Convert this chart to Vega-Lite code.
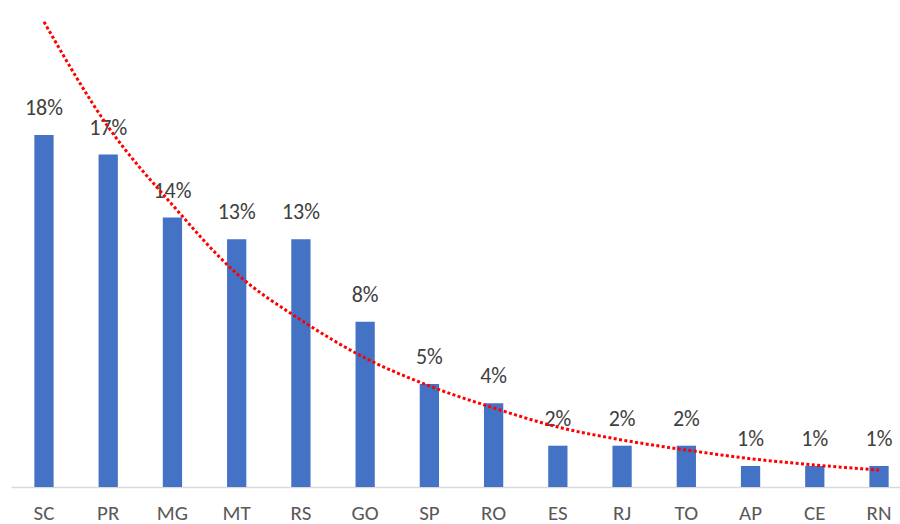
{
  "$schema": "https://vega.github.io/schema/vega-lite/v6.json",
  "width": 889,
  "height": 487,
  "autosize": "none",
  "padding": {"left": 11, "top": 0, "right": 0, "bottom": 37},
  "background": "white",
  "config": {
    "view": {"stroke": null},
    "axis": {"grid": false}
  },
  "data": {
    "values": [
      {"uf": "SC", "share": 0.179, "trend": 0.2365},
      {"uf": "PR", "share": 0.169, "trend": 0.1831},
      {"uf": "MG", "share": 0.137, "trend": 0.1434},
      {"uf": "MT", "share": 0.126, "trend": 0.1085},
      {"uf": "RS", "share": 0.126, "trend": 0.0849},
      {"uf": "GO", "share": 0.084, "trend": 0.0656},
      {"uf": "SP", "share": 0.0524, "trend": 0.0514},
      {"uf": "RO", "share": 0.0426, "trend": 0.0402},
      {"uf": "ES", "share": 0.021, "trend": 0.0305},
      {"uf": "RJ", "share": 0.021, "trend": 0.0239},
      {"uf": "TO", "share": 0.021, "trend": 0.0188},
      {"uf": "AP", "share": 0.0107, "trend": 0.0144},
      {"uf": "CE", "share": 0.0107, "trend": 0.0112},
      {"uf": "RN", "share": 0.0107, "trend": 0.0086}
    ]
  },
  "encoding": {
    "x": {
      "field": "uf",
      "type": "nominal",
      "sort": null,
      "scale": {"paddingInner": 0.7, "paddingOuter": 0.27, "align": 0.673},
      "axis": {
        "title": null,
        "labelAngle": 0,
        "ticks": false,
        "tickSize": 0,
        "domainColor": "#D9D9D9",
        "domainWidth": 1.5,
        "labelFont": "Carlito, Liberation Sans Narrow, Open Sans",
        "labelFontSize": 21,
        "labelColor": "#595959",
        "labelBaseline": "alphabetic",
        "labelPadding": 32
      }
    }
  },
  "layer": [
    {
      "mark": {"type": "bar", "color": "#4472C4"},
      "encoding": {
        "y": {
          "field": "share",
          "type": "quantitative",
          "scale": {"domain": [0, 0.2476], "nice": false, "zero": true},
          "axis": null
        }
      }
    },
    {
      "mark": {
        "type": "text",
        "baseline": "alphabetic",
        "dy": -20,
        "font": "Carlito, Liberation Sans Narrow, Open Sans",
        "fontSize": 22,
        "color": "#404040"
      },
      "encoding": {
        "y": {"field": "share", "type": "quantitative", "axis": null},
        "text": {"field": "share", "type": "quantitative", "format": ".0%"}
      }
    },
    {
      "mark": {
        "type": "line",
        "color": "#FF0000",
        "strokeWidth": 3,
        "strokeDash": [3, 2.4],
        "interpolate": "monotone"
      },
      "encoding": {
        "y": {"field": "trend", "type": "quantitative", "axis": null}
      }
    }
  ]
}
